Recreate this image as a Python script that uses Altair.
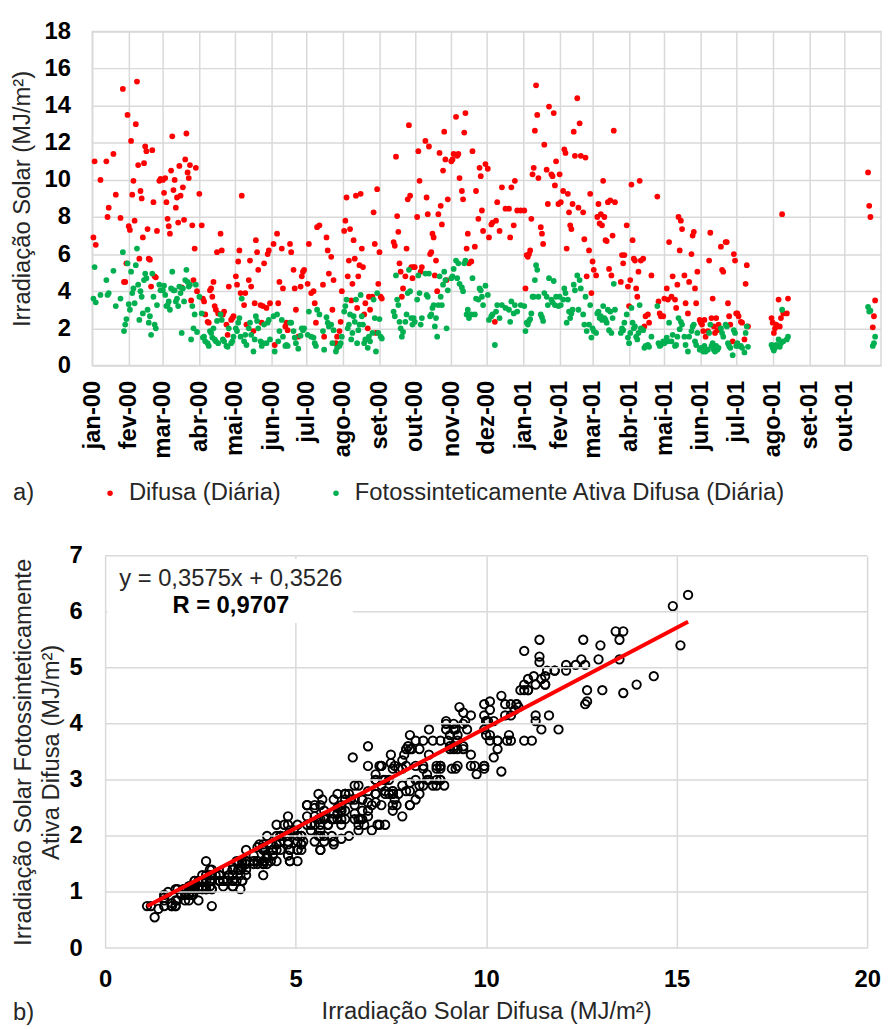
import altair as alt
import pandas as pd

# ---------------- data ----------------
# day offset from 2000-01-01, daily diffuse irradiation and PAR diffuse (MJ/m2)
dias_2000 = [
    1, 2, 3, 7, 12, 13, 14, 18, 20, 24, 26, 27, 28, 29, 30,
    31, 32, 33, 34, 35, 36, 37, 38, 39, 40, 41, 42, 43, 44, 45, 46, 47, 48, 49, 50, 51, 52, 53, 54, 55, 57, 58,
    60, 61, 62, 63, 64, 65, 66, 67, 68, 69, 70, 71, 72, 73, 74, 75, 76, 77, 78, 79, 80, 81, 82, 83, 84, 85, 86, 87, 88, 89,
    91, 93, 94, 95, 96, 98, 99, 100, 101, 102, 103, 104, 105, 106, 107, 109, 110, 111, 112, 114, 115, 116, 118, 119, 120,
    122, 123, 124, 125, 126, 127, 129, 130, 131, 133, 134, 135, 137, 138, 139, 140, 141, 143, 144, 145, 146, 148, 149, 150, 151,
    154, 155, 157, 158, 159, 161, 162, 164, 165, 166, 168, 169, 171, 172, 173, 175, 177, 178, 179, 180,
    183, 184, 186, 188, 189, 190, 191, 193, 196, 197, 199, 200, 201, 203, 204, 205, 207, 208, 210, 211, 212,
    214, 215, 216, 217, 218, 219, 220, 221, 222, 223, 224, 225, 226, 227, 228, 229, 230, 231, 232, 234, 235, 236, 238, 239, 240, 241, 242, 243,
    244, 245, 246, 256, 257, 258, 259, 260, 261, 262, 263, 264, 266, 267, 268, 269, 270, 271, 272, 273,
    274, 276, 277, 278, 279, 280, 283, 284, 285, 286, 287, 288, 289, 290, 291, 292, 293, 294, 295, 296, 297, 298, 299, 300, 301, 302,
    305, 306, 307, 309, 310, 311, 312, 314, 315, 316, 317, 318, 319, 320, 322, 323, 325, 326, 328, 329, 330, 331, 332, 334,
    336, 337, 339, 340, 342, 343, 344, 346, 348, 351, 354, 355, 356, 358, 359, 361, 364,
]
difusa_2000 = [
    6.9, 11.0, 6.5, 10.0, 11.0, 8.0, 8.5, 11.4, 9.2, 7.95, 14.9, 4.5, 4.5, 5.5, 13.5,
    7.5, 7.3, 12.1, 9.2, 9.95, 7.8, 13.0, 15.3, 10.8, 5.75, 9.4, 9.0, 6.9, 10.9, 11.8, 11.55, 7.35, 5.75, 5.7, 4.25, 11.6, 8.8, 4.8, 4.75, 7.25, 9.95, 10.05,
    10.0, 9.3, 10.1, 8.8, 7.9, 7.5, 7.1, 10.5, 12.35, 9.45, 10.0, 8.5, 9.05, 7.7, 10.75, 9.15, 4.2, 9.6, 7.85, 11.1, 12.5, 10.4, 10.1, 10.8, 3.5, 7.55, 4.6, 6.3, 10.65, 4.0,
    9.25, 7.55, 3.6, 3.45, 2.75, 2.35, 2.3, 4.05, 4.15, 3.7, 4.5, 3.2, 3.0, 6.1, 2.8, 7.1, 6.2, 2.75, 2.9, 2.2, 1.65, 4.25, 2.45, 2.55, 2.65,
    4.8, 4.35, 5.6, 6.2, 3.9, 9.15, 3.25, 3.9, 2.2, 4.6, 5.65, 4.25, 1.85, 3.35, 6.75, 6.1, 5.15, 3.25, 2.3, 3.2, 5.5, 3.1, 6.0, 6.2, 3.35,
    6.55, 1.1, 7.1, 3.35, 4.5, 6.3, 4.15, 2.1, 2.3, 1.9, 6.55, 6.1, 5.15, 4.15, 3.0, 1.55, 4.25, 4.8, 5.05, 5.15,
    4.4, 6.55, 3.9, 4.0, 3.35, 2.3, 7.45, 7.55, 4.35, 1.55, 6.9, 6.2, 4.95, 5.85, 3.0, 4.6, 1.2, 1.55, 1.85, 2.35, 4.0,
    7.25, 7.8, 9.05, 4.8, 5.65, 7.35, 3.5, 4.4, 6.75, 5.75, 9.15, 3.1, 4.8, 5.4, 9.25, 6.3, 5.3, 2.75, 3.35, 2.0, 3.7, 3.0, 3.7, 8.25, 6.55, 1.75, 9.5, 4.4,
    6.1, 3.7, 3.6, 6.65, 6.45, 11.25, 8.05, 7.2, 5.5, 5.05, 3.7, 4.15, 4.8, 6.3, 8.95, 12.95, 9.15, 5.3, 4.7, 5.3,
    5.3, 8.0, 11.55, 9.95, 5.05, 5.3, 12.1, 9.05, 8.15, 11.8, 6.0, 6.1, 7.1, 6.9, 4.85, 5.65, 4.0, 8.15, 11.45, 8.6, 7.6, 10.5, 12.6, 11.1, 4.6, 8.95,
    11.0, 11.1, 11.4, 13.4, 11.3, 11.4, 10.1, 9.4, 8.95, 12.55, 13.6, 6.3, 7.1, 5.5, 5.6, 11.55, 6.4, 9.4, 7.9, 10.65, 10.2, 8.35, 7.25, 10.85,
    10.6, 6.9, 7.6, 7.7, 2.35, 7.8, 8.8, 7.25, 9.6, 8.45, 8.45, 6.9, 9.6, 7.55, 9.95, 8.35, 8.35,
]
par_2000 = [
    3.6, 5.3, 3.4, 3.8, 4.6, 3.8, 3.9, 5.1, 3.2, 3.6, 6.1, 1.85, 2.2, 2.5, 5.5,
    3.3, 3.0, 5.05, 3.9, 4.15, 3.35, 5.4, 6.3, 4.35, 2.45, 4.0, 3.7, 2.8, 4.6, 4.95, 4.7, 3.0, 2.3, 2.65, 1.65, 4.95, 3.7, 2.2, 2.0, 3.25, 4.35, 4.05,
    4.05, 4.3, 3.8, 3.2, 3.25, 3.45, 3.0, 4.15, 5.05, 4.05, 4.05, 3.45, 3.6, 3.2, 4.25, 3.9, 1.75, 4.15, 3.45, 4.6, 5.15, 4.5, 4.25, 4.35, 1.4, 3.2, 2.0, 2.75, 4.35, 1.8,
    3.7, 2.8, 1.5, 1.55, 1.3, 1.2, 1.05, 1.85, 1.75, 1.5, 2.0, 1.4, 1.3, 2.4, 1.2, 2.75, 2.45, 1.4, 1.3, 1.05, 1.0, 2.0, 1.2, 1.3, 1.55,
    2.0, 1.85, 2.3, 2.55, 1.55, 3.6, 1.3, 1.65, 1.1, 2.0, 2.3, 1.65, 0.75, 1.4, 2.65, 2.4, 2.0, 1.3, 1.05, 1.2, 2.2, 1.2, 2.3, 2.45, 1.4,
    2.65, 0.75, 2.75, 1.3, 1.85, 2.45, 1.55, 1.05, 1.1, 1.05, 2.3, 2.3, 1.85, 1.5, 1.2, 0.9, 1.6, 2.0, 1.9, 2.0,
    1.65, 2.9, 1.55, 1.5, 1.2, 1.05, 3.0, 2.75, 1.85, 0.85, 2.6, 2.3, 2.1, 2.2, 1.2, 1.9, 0.75, 0.95, 1.05, 1.2, 1.55,
    2.9, 3.2, 3.55, 2.0, 2.2, 2.75, 1.4, 1.75, 2.65, 2.35, 3.55, 1.2, 1.9, 2.2, 3.8, 2.65, 2.2, 1.2, 1.4, 0.95, 1.55, 1.3, 1.75, 3.55, 2.55, 0.75, 3.9, 1.75,
    2.5, 1.55, 1.45, 2.9, 2.65, 4.85, 3.55, 3.25, 2.35, 2.0, 1.55, 1.8, 2.35, 2.75, 3.9, 5.15, 4.0, 2.55, 2.2, 2.55,
    2.35, 3.55, 4.85, 3.9, 2.2, 2.55, 4.95, 3.8, 3.7, 4.95, 2.65, 2.75, 3.1, 3.25, 2.1, 2.55, 1.55, 3.25, 4.8, 3.7, 3.25, 4.35, 5.05, 4.6, 2.0, 4.05,
    4.7, 4.8, 5.2, 5.65, 4.7, 5.5, 4.4, 4.2, 4.0, 5.5, 5.65, 2.75, 3.0, 2.55, 2.75, 4.7, 2.75, 3.6, 3.55, 4.15, 4.05, 3.7, 3.25, 4.3,
    3.8, 2.45, 2.65, 2.75, 1.1, 2.9, 3.25, 2.55, 3.25, 3.1, 3.0, 2.35, 3.45, 2.8, 3.25, 2.9, 3.25,
]
dias_2001 = [
    367, 368, 369, 370, 371, 372, 373, 374, 375, 376, 377, 378, 379, 381, 382, 383, 384, 386, 387, 388, 390, 391, 392, 393, 394, 396,
    397, 398, 400, 401, 402, 403, 404, 405, 406, 407, 408, 409, 410, 412, 413, 414, 415, 417, 418, 419, 420, 422, 423, 424,
    425, 426, 428, 429, 430, 431, 432, 433, 434, 435, 436, 437, 438, 439, 440, 441, 442, 443, 444, 449, 450, 451, 452, 454, 455,
    456, 457, 458, 459, 460, 461, 462, 463, 464, 465, 466, 468, 469, 470, 472, 473, 475, 480, 481, 482, 483, 485,
    486, 488, 489, 490, 492, 493, 495, 496, 497, 498, 499, 500, 501, 503, 504, 506, 507, 509, 510, 511, 512, 513, 514, 516,
    517, 518, 519, 520, 521, 523, 524, 525, 526, 527, 528, 529, 530, 531, 532, 534, 535, 536, 538, 539, 540, 541, 542, 544, 545, 546,
    547, 548, 549, 551, 552, 554, 555, 556, 557,
    577, 578, 579, 580, 581, 583, 584, 585, 586, 587, 590, 591,
    659, 660, 661, 663, 664, 665,
]
difusa_2001 = [
    8.35, 4.15, 5.95, 5.85, 6.0, 6.2, 7.9, 10.3, 10.65, 12.65, 15.1, 13.5, 10.1, 7.45, 7.1, 6.55, 11.9, 10.55, 8.7, 13.95, 10.3, 10.2, 13.6, 9.7, 11.0, 8.7,
    10.3, 8.8, 9.4, 11.65, 11.45, 6.3, 9.25, 8.25, 7.55, 7.35, 8.7, 12.6, 11.3, 14.4, 8.5, 13.05, 11.3, 8.25, 6.8, 11.2, 4.8, 6.2, 9.25, 3.9,
    5.6, 5.15, 4.85, 8.0, 8.7, 7.65, 8.15, 7.55, 9.95, 8.0, 6.75, 6.7, 8.8, 5.2, 8.9, 4.85, 7.0, 12.65, 8.8, 4.5, 5.95, 5.5, 5.95, 7.55, 4.25,
    3.2, 4.6, 9.75, 6.75, 5.75, 5.65, 4.15, 3.7, 5.05, 9.95, 5.65, 5.75, 2.1, 2.65, 2.75, 2.3, 4.85, 9.1, 3.45, 2.8, 2.65, 2.65,
    3.6, 4.15, 3.55, 6.65, 3.7, 4.8, 3.55, 3.1, 4.35, 8.0, 6.2, 7.8, 7.35, 4.85, 3.35, 2.8, 4.5, 6.0, 7.0, 7.2, 4.15, 3.35, 5.05, 2.45,
    2.3, 2.2, 1.85, 2.45, 1.55, 1.85, 5.65, 7.15, 2.55, 3.6, 2.1, 1.75, 2.55, 1.9, 2.2, 6.4, 5.15, 5.05, 6.65, 6.65, 3.35, 2.65, 2.2, 1.3, 6.0, 5.65,
    2.8, 2.8, 2.65, 2.35, 2.3, 1.4, 4.4, 5.4, 2.1,
    2.55, 2.3, 1.75, 2.0, 2.2, 3.55, 2.1, 2.55, 8.15, 2.8, 2.8, 3.6,
    10.4, 8.6, 8.0, 2.05, 2.65, 3.5,
]
par_2001 = [
    3.2, 1.85, 2.3, 2.2, 2.4, 2.5, 2.8, 3.7, 3.7, 4.6, 5.4, 5.15, 3.7, 2.75, 2.6, 2.4, 3.9, 3.7, 3.25, 4.7, 3.55, 3.4, 4.55, 3.25, 3.7, 3.2,
    3.7, 3.25, 3.55, 4.15, 3.9, 2.3, 3.55, 2.9, 2.55, 2.8, 3.0, 4.35, 4.05, 4.85, 3.0, 4.6, 4.15, 2.75, 2.2, 3.7, 1.85, 2.2, 3.25, 1.5,
    2.0, 1.85, 1.75, 2.8, 2.9, 2.55, 2.65, 2.45, 3.2, 2.55, 2.45, 2.3, 3.0, 1.9, 2.9, 1.75, 2.55, 4.4, 3.0, 1.75, 2.0, 1.9, 2.3, 2.75, 1.5,
    1.2, 1.75, 3.1, 2.3, 2.0, 2.1, 1.55, 1.4, 1.75, 3.25, 2.0, 1.9, 0.95, 1.05, 1.1, 1.0, 1.55, 3.2, 1.2, 1.05, 1.1, 1.3,
    1.2, 1.5, 1.3, 2.3, 1.3, 1.65, 1.05, 1.1, 1.55, 2.55, 1.95, 2.35, 2.2, 1.55, 1.1, 0.75, 1.55, 1.85, 2.1, 2.2, 1.3, 1.1, 1.75, 0.85,
    0.95, 0.85, 0.75, 1.05, 0.75, 0.85, 1.75, 2.2, 1.05, 1.2, 0.85, 0.75, 1.05, 0.85, 0.95, 2.0, 1.75, 1.55, 2.2, 2.1, 1.2, 1.05, 0.95, 0.55, 1.9, 1.75,
    1.05, 1.2, 1.05, 1.05, 0.95, 0.7, 1.75, 2.1, 1.0,
    1.1, 0.95, 0.8, 0.95, 1.1, 1.4, 1.0, 1.2, 3.0, 1.3, 1.4, 1.55,
    3.15, 2.9, 2.95, 1.05, 1.2, 1.55,
]

meses = ["jan", "fev", "mar", "abr", "mai", "jun", "jul", "ago", "set", "out", "nov", "dez"]
serie_difusa = "Difusa (Diária)"
serie_par = "Fotossinteticamente Ativa Difusa (Diária)"
ticks_y_a = [0, 2, 4, 6, 8, 10, 12, 14, 16, 18]
ticks_x_b = [0, 5, 10, 15, 20]
ticks_y_b = [0, 1, 2, 3, 4, 5, 6, 7]
coef_a = 0.3575
coef_b = 0.3526
coef_r = 0.9707

# ---------------- assembly ----------------
dias = dias_2000 + dias_2001
difusa = difusa_2000 + difusa_2001
par = par_2000 + par_2001
assert len(dias) == len(difusa) == len(par), (len(dias), len(difusa), len(par))
n = len(dias)

datas = list((pd.Timestamp("2000-01-01") + pd.to_timedelta(dias, unit="D")).strftime("%Y-%m-%d"))

df_a = pd.DataFrame({
    "data": datas + datas,
    "valor": difusa + par,
    "serie": [serie_difusa] * n + [serie_par] * n,
})

FONT = "Liberation Sans"
GRID = "#d9d9d9"
TXT = "#262626"

valores_mes = [alt.DateTime(year=2000 + i // 12, month=i % 12 + 1, date=1, utc=True) for i in range(22)]
dominio_t = [alt.DateTime(year=2000, month=1, date=1, utc=True),
             alt.DateTime(year=2001, month=11, date=1, utc=True)]
js_meses = "[" + ",".join("'" + m + "'" for m in meses) + "]"
label_expr = js_meses + "[utcmonth(datum.value)] + '-' + utcFormat(datum.value, '%y')"

# ---------------- panel a ----------------
pontos_a = alt.Chart(df_a).mark_circle(size=34, opacity=1).encode(
    x=alt.X("data:T",
            scale=alt.Scale(type="utc", domain=dominio_t),
            axis=alt.Axis(values=valores_mes, labelExpr=label_expr, labelAngle=270,
                          labelPadding=15, title=None, labelOverlap=False)),
    y=alt.Y("valor:Q",
            scale=alt.Scale(domain=[0, 18], nice=False),
            axis=alt.Axis(values=ticks_y_a, title="Irradiação Solar (MJ/m²)",
                          labelPadding=22, titlePadding=10)),
    color=alt.Color("serie:N",
                    scale=alt.Scale(domain=[serie_difusa, serie_par], range=["#ff0000", "#00b050"]),
                    legend=alt.Legend(title=None, orient="none", legendX=6, legendY=454,
                                      direction="horizontal", symbolType="circle", symbolSize=30,
                                      symbolStrokeWidth=0, labelFont=FONT, labelFontSize=24,
                                      labelColor=TXT, labelOffset=7, columnPadding=43,
                                      padding=0, labelLimit=1000)),
)
rotulo_a = alt.Chart(pd.DataFrame({"rotulo": ["a)"]})).mark_text(
    align="left", baseline="middle", font=FONT, fontSize=24, color=TXT
).encode(x=alt.value(-80), y=alt.value(466), text="rotulo:N")

painel_a = alt.layer(pontos_a, rotulo_a).properties(
    width=796, height=337, view=alt.ViewBackground(stroke=GRID, strokeWidth=1.5))

# ---------------- panel b ----------------
df_b = pd.DataFrame({"difusa": difusa, "par": par})
x_lin = [min(difusa), max(difusa)]
df_lin = pd.DataFrame({"difusa": x_lin, "par": [coef_a * v + coef_b for v in x_lin]})
texto_eq = ("y = %.4fx + %.4f" % (coef_a, coef_b)).replace(".", ",")
texto_r = ("R = %.4f" % coef_r).replace(".", ",")

# plot area of panel b begins 13 px to the right of panel a's
xb = alt.X("difusa:Q", scale=alt.Scale(domain=[0, 20], nice=False, range=[13, 782]),
           axis=alt.Axis(values=ticks_x_b, title="Irradiação Solar Difusa (MJ/m²)",
                         labelPadding=20, titlePadding=8))
yb = alt.Y("par:Q", scale=alt.Scale(domain=[0, 7], nice=False),
           axis=alt.Axis(values=ticks_y_b, format="d", grid=False,
                         title=["Irradiação Solar Fotossinteticamente", "Ativa Difusa (MJ/m²)"],
                         labelPadding=10, titlePadding=6, titleLineHeight=28))

pontos_b = alt.Chart(df_b).mark_point(shape="circle", filled=False, color="#000000",
                                      size=72, strokeWidth=1.9, opacity=1).encode(x=xb, y=yb)
grade_b = alt.Chart(pd.DataFrame({"par": ticks_y_b})).mark_rule(color=GRID, strokeWidth=1.5).encode(
    y="par:Q", x=alt.datum(0), x2=alt.datum(20))
caixa = alt.Chart(pd.DataFrame({"k": [0]})).mark_rect(color="white").encode(
    x=alt.datum(0.06), x2=alt.datum(6.5), y=alt.datum(5.8), y2=alt.datum(6.94))
linha_b = alt.Chart(df_lin).mark_line(color="#ff0000", strokeWidth=4).encode(
    x="difusa:Q", y="par:Q")
eq_b = alt.Chart(pd.DataFrame({"t": [texto_eq]})).mark_text(
    font=FONT, fontSize=24, color=TXT, align="center", baseline="middle"
).encode(x=alt.datum(3.3), y=alt.datum(6.58), text="t:N")
r_b = alt.Chart(pd.DataFrame({"t": [texto_r]})).mark_text(
    font=FONT, fontSize=24, fontWeight="bold", color="#000000", align="center", baseline="middle"
).encode(x=alt.datum(3.3), y=alt.datum(6.1), text="t:N")
rotulo_b = alt.Chart(pd.DataFrame({"rotulo": ["b)"]})).mark_text(
    align="left", baseline="middle", font=FONT, fontSize=24, color=TXT
).encode(x=alt.value(-80), y=alt.value(462), text="rotulo:N")

painel_b = alt.layer(pontos_b, grade_b, caixa, linha_b, eq_b, r_b, rotulo_b).properties(
    width=782, height=396, view=alt.ViewBackground(stroke=None))

chart = alt.concat(painel_a, painel_b, columns=1, spacing=192, bounds="flush").properties(
    padding={"left": 1, "top": 6, "right": 0, "bottom": 0}
).configure_view(
    stroke=None
).configure_axis(
    labelFont=FONT, labelFontSize=24, labelFontWeight="bold", labelColor="#000000",
    titleFont=FONT, titleFontSize=24, titleFontWeight="normal", titleColor=TXT,
    grid=True, gridColor=GRID, gridWidth=1.5, domain=False, ticks=False, labelFlush=False
)

chart.save("out.html", embed_options={"renderer": "svg", "actions": False})
